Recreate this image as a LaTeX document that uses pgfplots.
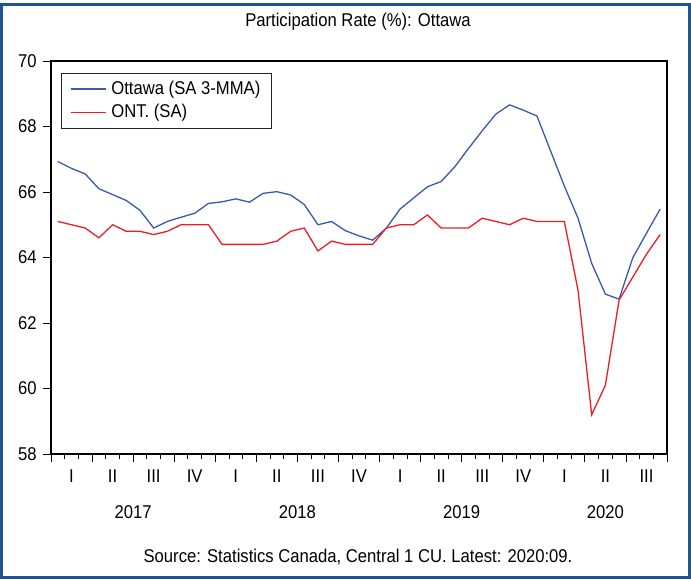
\documentclass[border=0pt]{standalone}
\usepackage{pgfplots}
\pgfplotsset{compat=1.18}
\usepackage{fontspec}
\setmainfont{Liberation Sans}[FakeStretch=0.9]
\definecolor{ottblue}{HTML}{3B58AC}
\definecolor{ontred}{HTML}{EE1C25}
\definecolor{frameblue}{HTML}{1F5493}

\pgfplotstableread{
x ott ont
0.5 66.93 65.1
1.5 66.72 65.0
2.5 66.55 64.9
3.5 66.10 64.6
4.5 65.92 65.0
5.5 65.74 64.8
6.5 65.44 64.8
7.5 64.90 64.7
8.5 65.10 64.8
9.5 65.23 65.0
10.5 65.35 65.0
11.5 65.65 65.0
12.5 65.70 64.4
13.5 65.79 64.4
14.5 65.69 64.4
15.5 65.96 64.4
16.5 66.01 64.5
17.5 65.91 64.8
18.5 65.62 64.9
19.5 65.00 64.2
20.5 65.10 64.5
21.5 64.82 64.4
22.5 64.66 64.4
23.5 64.53 64.4
24.5 64.90 64.9
25.5 65.48 65.0
26.5 65.82 65.0
27.5 66.16 65.3
28.5 66.32 64.9
29.5 66.77 64.9
30.5 67.33 64.9
31.5 67.87 65.2
32.5 68.38 65.1
33.5 68.66 65.0
34.5 68.50 65.2
35.5 68.32 65.1
36.5 67.25 65.1
37.5 66.18 65.1
38.5 65.20 63.0
39.5 63.82 59.2
40.5 62.88 60.1
41.5 62.73 62.7
42.5 63.99 63.4
43.5 64.74 64.1
44.5 65.48 64.7
}\datatable

\begin{document}
\begin{tikzpicture}[x=1pt,y=1pt]
\fontsize{18.5}{22}\selectfont
\useasboundingbox (0,0) rectangle (691,580);
\draw[frameblue, line width=3pt] (1.5,2.5) rectangle (689,575);
\node[anchor=base, inner sep=0pt] at (358,553) {Participation Rate (\%): Ottawa};
\node[anchor=base, inner sep=0pt] at (358,17) {Source: Statistics Canada, Central 1 CU. Latest: 2020:09.};
\begin{axis}[
  at={(51pt,126pt)}, anchor=south west,
  scale only axis, width=616pt, height=393pt,
  xmin=0, xmax=45, ymin=58, ymax=70,
  ytick={58,60,...,70},
  xtick={0,3,...,45}, xticklabels={}, minor x tick num=2,
  tick align=outside, xtick pos=bottom, ytick pos=left,
  major tick length=8pt, minor tick length=5pt,
  axis line style={line width=1.2pt},
  every tick/.style={black, line width=0.8pt},
  /pgf/number format/assume math mode=true,
  yticklabel style={font=\fontsize{18.5}{22}\selectfont},
  clip=false,
  legend cell align=left,
  legend image code/.code={\draw[#1, line width=1.3pt] (0pt,0pt) -- (35pt,0pt);},
  legend style={at={(rel axis cs:0.0157,0.9695)}, anchor=north west,
    draw=black!85, line width=0.8pt, font=\fontsize{18.5}{22}\selectfont,
    inner xsep=9pt, inner ysep=5.5pt, row sep=3.5pt, column sep=3pt,
    nodes={inner sep=2pt}},
]
\addplot[ottblue, line width=1.3pt] table[x=x, y=ott] {\datatable};
\addlegendentry{Ottawa (SA 3-MMA)}
\addplot[ontred, line width=1.3pt] table[x=x, y=ont] {\datatable};
\addlegendentry{ONT. (SA)}
\node[anchor=base, yshift=-29pt] at (axis cs:1.5,58) {I};
\node[anchor=base, yshift=-29pt] at (axis cs:4.5,58) {II};
\node[anchor=base, yshift=-29pt] at (axis cs:7.5,58) {III};
\node[anchor=base, yshift=-29pt] at (axis cs:10.5,58) {IV};
\node[anchor=base, yshift=-29pt] at (axis cs:13.5,58) {I};
\node[anchor=base, yshift=-29pt] at (axis cs:16.5,58) {II};
\node[anchor=base, yshift=-29pt] at (axis cs:19.5,58) {III};
\node[anchor=base, yshift=-29pt] at (axis cs:22.5,58) {IV};
\node[anchor=base, yshift=-29pt] at (axis cs:25.5,58) {I};
\node[anchor=base, yshift=-29pt] at (axis cs:28.5,58) {II};
\node[anchor=base, yshift=-29pt] at (axis cs:31.5,58) {III};
\node[anchor=base, yshift=-29pt] at (axis cs:34.5,58) {IV};
\node[anchor=base, yshift=-29pt] at (axis cs:37.5,58) {I};
\node[anchor=base, yshift=-29pt] at (axis cs:40.5,58) {II};
\node[anchor=base, yshift=-29pt] at (axis cs:43.5,58) {III};
\node[anchor=base, yshift=-65pt] at (axis cs:6,58) {2017};
\node[anchor=base, yshift=-65pt] at (axis cs:18,58) {2018};
\node[anchor=base, yshift=-65pt] at (axis cs:30,58) {2019};
\node[anchor=base, yshift=-65pt] at (axis cs:40.5,58) {2020};
\end{axis}
\end{tikzpicture}
\end{document}
